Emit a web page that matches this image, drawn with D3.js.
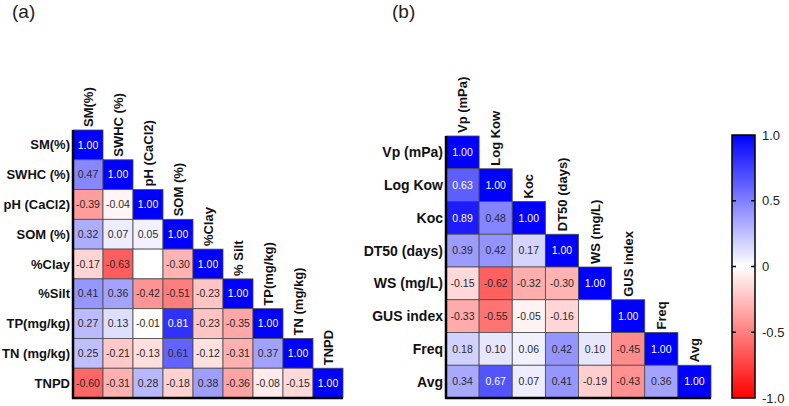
<!DOCTYPE html>
<html>
<head>
<meta charset="utf-8">
<script src="https://cdn.jsdelivr.net/npm/d3@7"></script>
<style>
  body { margin: 0; background: #fff; }
  svg { font-family: "Liberation Sans", Arial, sans-serif; }
</style>
</head>
<body>
<svg id="viz"></svg>
<script>
// panel (a) variables and lower-triangle correlations
var varsA = ['SM(%)', 'SWHC (%)', 'pH (CaCl2)', 'SOM (%)', '%Clay', '%Silt', 'TP(mg/kg)', 'TN (mg/kg)', 'TNPD'];
var colLabelsA = ['SM(%)', 'SWHC (%)', 'pH (CaCl2)', 'SOM (%)', '%Clay', '% Silt', 'TP(mg/kg)', 'TN (mg/kg)', 'TNPD'];
var valuesA = [
    [1.00],
    [0.47, 1.00],
    [-0.39, -0.04, 1.00],
    [0.32, 0.07, 0.05, 1.00],
    [-0.17, -0.63, null, -0.30, 1.00],
    [0.41, 0.36, -0.42, -0.51, -0.23, 1.00],
    [0.27, 0.13, -0.01, 0.81, -0.23, -0.35, 1.00],
    [0.25, -0.21, -0.13, 0.61, -0.12, -0.31, 0.37, 1.00],
    [-0.60, -0.31, 0.28, -0.18, 0.38, -0.36, -0.08, -0.15, 1.00]
];

// panel (b)
var varsB = ['Vp (mPa)', 'Log Kow', 'Koc', 'DT50 (days)', 'WS (mg/L)', 'GUS index', 'Freq', 'Avg'];
var valuesB = [
    [1.00],
    [0.63, 1.00],
    [0.89, 0.48, 1.00],
    [0.39, 0.42, 0.17, 1.00],
    [-0.15, -0.62, -0.32, -0.30, 1.00],
    [-0.33, -0.55, -0.05, -0.16, null, 1.00],
    [0.18, 0.10, 0.06, 0.42, 0.10, -0.45, 1.00],
    [0.34, 0.67, 0.07, 0.41, -0.19, -0.43, 0.36, 1.00]
];

var legendTicks = [1.0, 0.5, 0, -0.5, -1.0];

var width = 789;
var height = 406;

var svg = d3.select('#viz')
            .attr('width', width)
            .attr('height', height)

var colorScale = d3.scaleLinear()
                   .domain([-1, 0, 1])
                   .range(['#ff0000', '#ffffff', '#0000ff']);

// plain hyphen for negatives, like the original figure
var locale = d3.formatLocale({decimal: '.', thousands: ',', grouping: [3], currency: ['', ''], minus: '-'});
var fmt = locale.format('.2f');
var legFmt = locale.format('.1f');

function drawMatrix(vars, colLabels, values, box){
    var g = svg.append('g');

    var xScale = d3.scaleBand().domain(vars).range([box.left, box.right]);
    var yScale = d3.scaleBand().domain(vars).range([box.top, box.bottom]);

    // flatten lower triangle
    var cells = [];
    values.forEach(function(row, i){
        row.forEach(function(v, j){
            cells.push({row: vars[i], col: vars[j], v: v});
        });
    });

    g.selectAll('rect.cell')
     .data(cells)
     .enter()
     .append('rect')
     .attr('class', 'cell')
     .attr('x', (d)=>xScale(d.col))
     .attr('y', (d)=>yScale(d.row))
     .attr('width', xScale.bandwidth())
     .attr('height', yScale.bandwidth())
     .attr('fill', (d)=> d.v == null ? '#ffffff' : colorScale(d.v))
     .attr('stroke', '#4a4a4a')
     .attr('stroke-width', 0.8);

    g.selectAll('text.val')
     .data(cells.filter((d)=>d.v != null))
     .enter()
     .append('text')
     .attr('class', 'val')
     .attr('x', (d)=>xScale(d.col) + xScale.bandwidth()/2)
     .attr('y', (d)=>yScale(d.row) + yScale.bandwidth()/2)
     .attr('dy', '0.35em')
     .attr('text-anchor', 'middle')
     .style('font-size', '10.5px')
     .attr('fill', (d)=> d.v > 0.62 ? '#ffffff' : '#2a2a2a')
     .text((d)=>fmt(d.v));

    // row labels
    g.selectAll('text.rowlab')
     .data(vars)
     .enter()
     .append('text')
     .attr('class', 'rowlab')
     .attr('x', box.left - 3)
     .attr('y', (d)=>yScale(d) + yScale.bandwidth()/2)
     .attr('dy', '0.35em')
     .attr('text-anchor', 'end')
     .style('font-size', box.rowFont)
     .style('font-weight', 'bold')
     .attr('fill', '#111')
     .text((d)=>d);

    // column labels above diagonal
    g.selectAll('text.collab')
     .data(vars)
     .enter()
     .append('text')
     .attr('class', 'collab')
     .attr('transform', (d)=>`translate(${xScale(d) + xScale.bandwidth()/2}, ${yScale(d) - 3}) rotate(-90)`)
     .attr('dy', '0.35em')
     .attr('text-anchor', 'start')
     .style('font-size', '13px')
     .style('font-weight', 'bold')
     .attr('fill', '#111')
     .text((d, i)=>colLabels[i]);

    // axis frame
    g.append('line')
     .attr('x1', box.left).attr('x2', box.left)
     .attr('y1', box.top).attr('y2', box.bottom + 1)
     .attr('stroke', '#000').attr('stroke-width', 2.5);
    g.append('line')
     .attr('x1', box.left - 1).attr('x2', box.right)
     .attr('y1', box.bottom).attr('y2', box.bottom)
     .attr('stroke', '#000').attr('stroke-width', 2.5);

    g.append('text')
     .attr('x', box.tagX)
     .attr('y', 18)
     .style('font-size', '19px')
     .attr('fill', '#222')
     .text(box.tag);
}

drawMatrix(varsA, colLabelsA, valuesA, {left: 73, right: 343, top: 130, bottom: 398, tag: '(a)', tagX: 12, rowFont: '13px'});
drawMatrix(varsB, varsB, valuesB, {left: 446, right: 711, top: 136, bottom: 398, tag: '(b)', tagX: 392, rowFont: '14px'});

/**************** colour bar ****************/
var barX = 732, barW = 23;
var legScale = d3.scaleLinear().domain([-1, 1]).range([398, 135]);

var defs = svg.append('defs');
var grad = defs.append('linearGradient')
               .attr('id', 'cbar')
               .attr('x1', 0).attr('x2', 0)
               .attr('y1', 1).attr('y2', 0);
grad.selectAll('stop')
    .data([-1, 0, 1])
    .enter()
    .append('stop')
    .attr('offset', (d)=> ((d + 1) / 2 * 100) + '%')
    .attr('stop-color', (d)=>colorScale(d));

svg.append('rect')
   .attr('x', barX)
   .attr('y', legScale(1))
   .attr('width', barW)
   .attr('height', legScale(-1) - legScale(1))
   .attr('fill', 'url(#cbar)')
   .attr('stroke', '#000')
   .attr('stroke-width', 1.5);

var legG = svg.append('g');
legG.selectAll('line.tl')
    .data(legendTicks.filter((d)=>Math.abs(d) < 1))
    .enter()
    .append('line')
    .attr('x1', barX).attr('x2', barX + 4)
    .attr('y1', (d)=>legScale(d)).attr('y2', (d)=>legScale(d))
    .attr('stroke', '#000').attr('stroke-width', 1.5);
legG.selectAll('line.tr')
    .data(legendTicks.filter((d)=>Math.abs(d) < 1))
    .enter()
    .append('line')
    .attr('x1', barX + barW - 4).attr('x2', barX + barW)
    .attr('y1', (d)=>legScale(d)).attr('y2', (d)=>legScale(d))
    .attr('stroke', '#000').attr('stroke-width', 1.5);

legG.selectAll('text')
    .data(legendTicks)
    .enter()
    .append('text')
    .attr('x', barX + barW + 7)
    .attr('y', (d)=>legScale(d))
    .attr('dy', '0.35em')
    .style('font-size', '13px')
    .attr('fill', '#222')
    .text((d)=> d == 0 ? '0' : legFmt(d));
</script>
</body>
</html>
